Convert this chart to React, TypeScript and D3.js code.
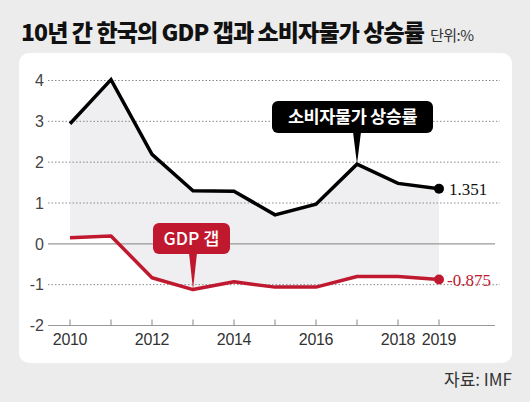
import React from "react";
import * as d3 from "d3";

const years = [2010, 2011, 2012, 2013, 2014, 2015, 2016, 2017, 2018, 2019];
const cpi = [2.94, 4.02, 2.19, 1.3, 1.29, 0.71, 0.97, 1.95, 1.48, 1.351];
const gdpGap = [0.15, 0.19, -0.83, -1.12, -0.93, -1.06, -1.06, -0.8, -0.8, -0.875];
const yTicks = [4, 3, 2, 1, 0, -1, -2];
const xLabels = [2010, 2012, 2014, 2016, 2018, 2019];

const RED = "#c0192f";
const FONT = "'Noto Sans CJK KR', 'Noto Sans', sans-serif";
const NUMFONT = "'Liberation Sans', Arial, sans-serif";

export default function App() {
  const W = 530, H = 402;
  const x = d3.scaleLinear().domain([2010, 2019]).range([70, 439]);
  const y = d3.scaleLinear().domain([-2, 4]).range([325.5, 80.5]);
  const line = d3.line<number>().x((_, i) => x(years[i])).y((d) => y(d));
  const area = d3
    .area<number>()
    .x((_, i) => x(years[i]))
    .y0((_, i) => y(gdpGap[i]))
    .y1((d) => y(d));

  const cpiIdx = 7;
  const gdpIdx = 3;
  const cx = x(years[cpiIdx]);
  const cy = y(cpi[cpiIdx]);
  const gx = x(years[gdpIdx]);
  const gy = y(gdpGap[gdpIdx]);

  return (
    <svg width={W} height={H} style={{ position: "absolute", left: 0, top: 0, display: "block" }}>
      <rect x={0} y={0} width={W} height={H} fill="#ececec" />
      <text x={21} y={41} fontFamily={FONT} fontWeight={900} fontSize={23} fill="#111" letterSpacing={-0.9}>
        10년 간 한국의 GDP 갭과 소비자물가 상승률
      </text>
      <text x={430} y={41} fontFamily={FONT} fontSize={15} fill="#333" letterSpacing={-0.5}>
        단위:%
      </text>
      <rect x={19} y={53} width={493} height={310} rx={10} fill="#fff" />
      <path d={area(cpi) || ""} fill="#efeff1" />
      {yTicks.map((t) => (
        <g key={t}>
          {t !== 0 && t !== -2 && (
            <line x1={48} x2={500} y1={y(t)} y2={y(t)} stroke="#888" strokeDasharray="1.5,2" strokeWidth={1} />
          )}
          <text x={44} y={y(t)} dy="0.36em" textAnchor="end" fontFamily={NUMFONT} fontWeight={400} fontSize={16} fill="#444">
            {t < 0 ? `-${Math.abs(t)}` : t}
          </text>
        </g>
      ))}
      <line x1={48} x2={495} y1={y(0)} y2={y(0)} stroke="#999" strokeWidth={1.2} />
      <line x1={48} x2={495} y1={y(-2)} y2={y(-2)} stroke="#999" strokeWidth={1.2} />
      {years.map((yr) => (
        <line key={yr} x1={x(yr)} x2={x(yr)} y1={y(-2)} y2={y(-2) - 6} stroke="#888" strokeWidth={1} />
      ))}
      {xLabels.map((yr) => (
        <text key={yr} x={x(yr)} y={345} textAnchor="middle" fontFamily={NUMFONT} fontWeight={400} fontSize={16} fill="#333" letterSpacing={-0.3}>
          {yr}
        </text>
      ))}
      <path d={line(gdpGap) || ""} fill="none" stroke={RED} strokeWidth={3.5} strokeLinejoin="round" />
      <path d={line(cpi) || ""} fill="none" stroke="#000" strokeWidth={3.5} strokeLinejoin="miter" />
      <circle cx={x(2019)} cy={y(cpi[9])} r={5} fill="#000" />
      <circle cx={x(2019)} cy={y(gdpGap[9])} r={5} fill={RED} />
      <text x={449} y={y(cpi[9])} dy="0.35em" fontFamily="'Liberation Serif', serif" fontSize={17} fill="#111">
        1.351
      </text>
      <text x={447} y={y(gdpGap[9])} dy="0.35em" fontFamily="'Liberation Serif', serif" fontSize={17} fill={RED}>
        -0.875
      </text>
      {/* CPI callout */}
      <path d={`M${cx - 4},132 L${cx},${cy} L${cx + 4},132 Z`} fill="#000" />
      <rect x={272} y={101} width={161} height={32} rx={6} fill="#000" />
      <text x={352.5} y={117} dy="0.36em" textAnchor="middle" fontFamily={FONT} fontWeight={700} fontSize={17.5} fill="#fff" letterSpacing={-0.4}>
        소비자물가 상승률
      </text>
      {/* GDP callout */}
      <path d={`M${gx - 4},253 L${gx},${gy} L${gx + 4},253 Z`} fill={RED} />
      <rect x={153} y={223} width={77} height={31} rx={6} fill={RED} />
      <text x={191.5} y={238.5} dy="0.36em" textAnchor="middle" fontFamily={FONT} fontWeight={500} fontSize={17.5} fill="#fff">
        GDP 갭
      </text>
      <text x={512} y={386} textAnchor="end" fontFamily={FONT} fontSize={17} fill="#333">
        자료: IMF
      </text>
    </svg>
  );
}
